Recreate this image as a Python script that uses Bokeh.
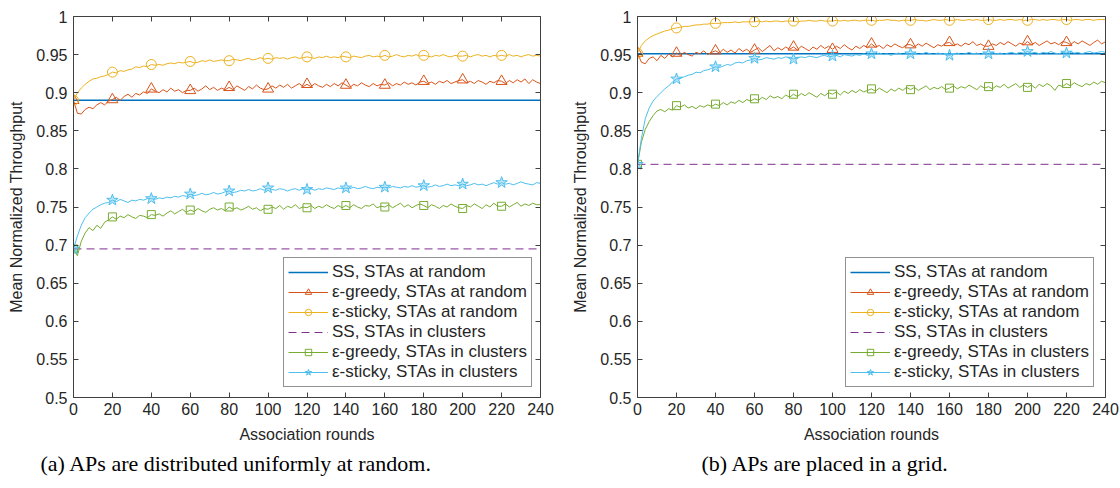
from bokeh.plotting import figure
from bokeh.models import (Range1d, LinearAxis, FixedTicker, Legend, LegendItem, Title)
from bokeh.layouts import row
from bokeh.embed import file_html
from bokeh.resources import INLINE

# ---------------- data ----------------
rounds = list(range(0, 241, 2))
marker_rounds = list(range(0, 221, 20))
x_ticks = list(range(0, 241, 20))
y_ticks = [0.5, 0.55, 0.6, 0.65, 0.7, 0.75, 0.8, 0.85, 0.9, 0.95, 1.0]
y_tick_labels = ["0.5", "0.55", "0.6", "0.65", "0.7", "0.75", "0.8", "0.85", "0.9", "0.95", "1"]

series_labels = ["SS, STAs at random", "ε-greedy, STAs at random", "ε-sticky, STAs at random",
                 "SS, STAs in clusters", "ε-greedy, STAs in clusters", "ε-sticky, STAs in clusters"]
captions = ["(a) APs are distributed uniformly at random.", "(b) APs are placed in a grid."]

ss_rounds = [0, 240]

# (a) APs distributed uniformly at random
a_ss_random = [0.890, 0.890]
a_ss_clusters = [0.695, 0.695]
a_greedy_random = [
    0.890, 0.873, 0.872, 0.878, 0.881, 0.879, 0.884, 0.887, 0.884, 0.889,
    0.891, 0.894, 0.890, 0.895, 0.898, 0.894, 0.899, 0.897, 0.901, 0.899,
    0.905, 0.902, 0.900, 0.904, 0.901, 0.906, 0.902, 0.904, 0.900, 0.903,
    0.903, 0.906, 0.902, 0.905, 0.909, 0.904, 0.907, 0.903, 0.906, 0.904,
    0.907, 0.904, 0.909, 0.906, 0.903, 0.908, 0.905, 0.910, 0.906, 0.904,
    0.905, 0.909, 0.906, 0.910, 0.907, 0.911, 0.906, 0.909, 0.912, 0.908,
    0.911, 0.908, 0.912, 0.909, 0.907, 0.911, 0.908, 0.912, 0.909, 0.913,
    0.910, 0.907, 0.911, 0.909, 0.913, 0.910, 0.908, 0.912, 0.909, 0.911,
    0.910, 0.913, 0.909, 0.912, 0.910, 0.914, 0.911, 0.913, 0.910, 0.914,
    0.915, 0.912, 0.914, 0.911, 0.915, 0.913, 0.916, 0.912, 0.914, 0.916,
    0.917, 0.913, 0.915, 0.912, 0.916, 0.914, 0.911, 0.915, 0.913, 0.916,
    0.915, 0.912, 0.916, 0.913, 0.917, 0.914, 0.918, 0.912, 0.917, 0.914,
    0.912]
a_sticky_random = [
    0.890, 0.900, 0.906, 0.911, 0.915, 0.918, 0.919, 0.921, 0.922, 0.924,
    0.927, 0.926, 0.929, 0.928, 0.930, 0.931, 0.934, 0.933, 0.935, 0.934,
    0.937, 0.936, 0.937, 0.936, 0.938, 0.939, 0.938, 0.940, 0.939, 0.940,
    0.941, 0.939, 0.940, 0.942, 0.941, 0.943, 0.941, 0.942, 0.943, 0.942,
    0.942, 0.944, 0.943, 0.942, 0.944, 0.945, 0.943, 0.944, 0.946, 0.944,
    0.945, 0.944, 0.946, 0.945, 0.946, 0.944, 0.946, 0.947, 0.945, 0.946,
    0.947, 0.946, 0.945, 0.947, 0.946, 0.948, 0.946, 0.947, 0.946, 0.948,
    0.947, 0.946, 0.948, 0.947, 0.946, 0.948, 0.949, 0.947, 0.948, 0.947,
    0.949, 0.947, 0.948, 0.950, 0.948, 0.947, 0.949, 0.948, 0.950, 0.948,
    0.949, 0.948, 0.947, 0.949, 0.948, 0.950, 0.948, 0.947, 0.949, 0.948,
    0.948, 0.949, 0.947, 0.949, 0.950, 0.948, 0.949, 0.947, 0.949, 0.948,
    0.949, 0.948, 0.950, 0.948, 0.949, 0.947, 0.949, 0.950, 0.948, 0.949,
    0.948]
a_greedy_clusters = [
    0.695, 0.686, 0.705, 0.716, 0.723, 0.719, 0.726, 0.722, 0.730, 0.733,
    0.737, 0.734, 0.738, 0.736, 0.740, 0.737, 0.735, 0.739, 0.738, 0.736,
    0.740, 0.739, 0.741, 0.738, 0.742, 0.745, 0.741, 0.744, 0.747, 0.743,
    0.746, 0.744, 0.748, 0.745, 0.743, 0.747, 0.749, 0.746, 0.748, 0.745,
    0.750, 0.747, 0.749, 0.746, 0.748, 0.751, 0.747, 0.749, 0.745, 0.748,
    0.747, 0.750, 0.748, 0.752, 0.747, 0.751, 0.749, 0.753, 0.748, 0.750,
    0.749, 0.752, 0.748, 0.751, 0.749, 0.753, 0.750, 0.748, 0.752, 0.749,
    0.752, 0.749, 0.753, 0.750, 0.748, 0.752, 0.751, 0.754, 0.749, 0.751,
    0.750, 0.753, 0.749, 0.752, 0.755, 0.750, 0.753, 0.749, 0.752, 0.754,
    0.752, 0.749, 0.753, 0.751, 0.748, 0.752, 0.750, 0.754, 0.751, 0.749,
    0.748, 0.752, 0.750, 0.754, 0.751, 0.748, 0.753, 0.750, 0.755, 0.751,
    0.751, 0.754, 0.750, 0.753, 0.756, 0.751, 0.754, 0.752, 0.755, 0.753,
    0.753]
a_sticky_clusters = [
    0.695, 0.712, 0.726, 0.736, 0.742, 0.747, 0.750, 0.753, 0.755, 0.756,
    0.759, 0.757, 0.760, 0.758, 0.756, 0.759, 0.758, 0.760, 0.759, 0.761,
    0.761, 0.760, 0.762, 0.761, 0.763, 0.762, 0.764, 0.763, 0.765, 0.764,
    0.767, 0.765, 0.766, 0.768, 0.766, 0.767, 0.769, 0.767, 0.768, 0.770,
    0.771, 0.769, 0.770, 0.772, 0.771, 0.773, 0.771, 0.772, 0.774, 0.772,
    0.775, 0.773, 0.772, 0.774, 0.773, 0.771, 0.773, 0.774, 0.772, 0.774,
    0.773, 0.774, 0.772, 0.774, 0.773, 0.775, 0.774, 0.773, 0.775, 0.774,
    0.775, 0.774, 0.776, 0.774, 0.775, 0.777, 0.775, 0.774, 0.776, 0.775,
    0.776, 0.775, 0.777, 0.776, 0.775, 0.777, 0.776, 0.778, 0.776, 0.777,
    0.778, 0.776, 0.777, 0.779, 0.777, 0.778, 0.780, 0.778, 0.779, 0.778,
    0.780, 0.778, 0.779, 0.781, 0.779, 0.780, 0.778, 0.780, 0.782, 0.780,
    0.782, 0.780, 0.781, 0.779, 0.781, 0.783, 0.781, 0.780, 0.779, 0.782,
    0.781]

# (b) APs placed in a grid
b_ss_random = [0.951, 0.951]
b_ss_clusters = [0.806, 0.806]
b_greedy_random = [
    0.952, 0.940, 0.938, 0.945, 0.947, 0.942, 0.949, 0.945, 0.951, 0.947,
    0.952, 0.949, 0.953, 0.950, 0.948, 0.953, 0.951, 0.955, 0.950, 0.953,
    0.955, 0.952, 0.957, 0.953, 0.956, 0.952, 0.958, 0.954, 0.957, 0.953,
    0.956, 0.959, 0.954, 0.958, 0.962, 0.955, 0.959, 0.956, 0.960, 0.957,
    0.960, 0.956, 0.961, 0.958, 0.955, 0.960, 0.957, 0.962, 0.958, 0.961,
    0.957, 0.961, 0.958, 0.963, 0.959, 0.956, 0.961, 0.958, 0.962, 0.959,
    0.964, 0.960, 0.962, 0.958, 0.963, 0.960, 0.964, 0.961, 0.959, 0.963,
    0.963, 0.960, 0.964, 0.961, 0.965, 0.962, 0.959, 0.963, 0.961, 0.965,
    0.966, 0.962, 0.964, 0.961, 0.965, 0.963, 0.967, 0.962, 0.964, 0.961,
    0.961, 0.964, 0.962, 0.966, 0.963, 0.967, 0.964, 0.961, 0.965, 0.963,
    0.967, 0.963, 0.966, 0.962, 0.965, 0.968, 0.964, 0.966, 0.963, 0.967,
    0.966, 0.963, 0.967, 0.964, 0.968, 0.965, 0.962, 0.966, 0.969, 0.964,
    0.967]
b_sticky_random = [
    0.952, 0.962, 0.968, 0.972, 0.975, 0.977, 0.979, 0.981, 0.982, 0.984,
    0.985, 0.986, 0.987, 0.987, 0.988, 0.989, 0.989, 0.990, 0.990, 0.991,
    0.991, 0.991, 0.992, 0.992, 0.992, 0.993, 0.992, 0.993, 0.993, 0.993,
    0.993, 0.994, 0.993, 0.994, 0.993, 0.994, 0.994, 0.993, 0.994, 0.994,
    0.994, 0.993, 0.994, 0.994, 0.995, 0.994, 0.994, 0.995, 0.994, 0.994,
    0.994, 0.995, 0.994, 0.995, 0.994, 0.995, 0.995, 0.994, 0.995, 0.995,
    0.995, 0.994, 0.995, 0.995, 0.996, 0.995, 0.995, 0.994, 0.995, 0.995,
    0.995, 0.996, 0.995, 0.995, 0.994, 0.995, 0.996, 0.995, 0.995, 0.996,
    0.995, 0.995, 0.996, 0.995, 0.995, 0.996, 0.995, 0.996, 0.995, 0.995,
    0.996, 0.995, 0.995, 0.996, 0.995, 0.996, 0.996, 0.995, 0.996, 0.995,
    0.995, 0.996, 0.996, 0.995, 0.996, 0.995, 0.996, 0.996, 0.995, 0.996,
    0.996, 0.995, 0.996, 0.996, 0.995, 0.996, 0.996, 0.995, 0.996, 0.996,
    0.996]
b_greedy_clusters = [
    0.806, 0.835, 0.852, 0.862, 0.870, 0.876, 0.878, 0.875, 0.879, 0.877,
    0.883, 0.881, 0.884, 0.880, 0.882, 0.879, 0.883, 0.881, 0.884, 0.882,
    0.885, 0.883, 0.887, 0.884, 0.888, 0.886, 0.890, 0.887, 0.891, 0.889,
    0.892, 0.890, 0.894, 0.891, 0.896, 0.893, 0.895, 0.892, 0.897, 0.894,
    0.898, 0.895, 0.899, 0.896, 0.900, 0.897, 0.894, 0.899, 0.896, 0.900,
    0.898, 0.901, 0.897, 0.902, 0.899, 0.903, 0.900, 0.904, 0.901, 0.903,
    0.905, 0.902, 0.906, 0.903, 0.900, 0.905, 0.902, 0.906, 0.903, 0.907,
    0.904, 0.907, 0.903, 0.906, 0.909, 0.904, 0.907, 0.905, 0.908, 0.904,
    0.906, 0.909, 0.905, 0.908, 0.906, 0.910, 0.907, 0.904, 0.909, 0.906,
    0.908, 0.905, 0.909, 0.907, 0.911, 0.906, 0.909, 0.912, 0.907, 0.910,
    0.907, 0.910, 0.906, 0.911, 0.908, 0.912, 0.909, 0.903, 0.910, 0.908,
    0.912, 0.909, 0.913, 0.910, 0.908, 0.912, 0.910, 0.914, 0.911, 0.915,
    0.913]
b_sticky_clusters = [
    0.806, 0.840, 0.866, 0.880, 0.889, 0.895, 0.900, 0.905, 0.909, 0.914,
    0.918, 0.919, 0.921, 0.923, 0.924, 0.927, 0.926, 0.929, 0.930, 0.932,
    0.934, 0.933, 0.935, 0.937, 0.936, 0.939, 0.940, 0.939, 0.942, 0.943,
    0.945, 0.943, 0.944, 0.946, 0.945, 0.944, 0.946, 0.945, 0.947, 0.946,
    0.944, 0.946, 0.947, 0.946, 0.948, 0.947, 0.946, 0.948, 0.949, 0.947,
    0.948, 0.949, 0.947, 0.950, 0.949, 0.948, 0.950, 0.949, 0.951, 0.949,
    0.951, 0.950, 0.952, 0.950, 0.951, 0.949, 0.951, 0.952, 0.950, 0.951,
    0.951, 0.952, 0.950, 0.951, 0.953, 0.951, 0.950, 0.952, 0.951, 0.950,
    0.949, 0.951, 0.952, 0.950, 0.951, 0.953, 0.951, 0.952, 0.950, 0.952,
    0.951, 0.953, 0.951, 0.952, 0.950, 0.952, 0.953, 0.951, 0.953, 0.952,
    0.954, 0.952, 0.953, 0.951, 0.953, 0.952, 0.954, 0.952, 0.951, 0.953,
    0.952, 0.954, 0.952, 0.953, 0.951, 0.953, 0.954, 0.952, 0.953, 0.954,
    0.953]

# ---------------- styling ----------------
C_BLUE = "#0072BD"
C_RED = "#D95319"
C_YEL = "#EDB120"
C_PUR = "#7E2F8E"
C_GRN = "#77AC30"
C_CYN = "#4DBEEE"
TXT = "#262626"
AX = "#404040"
SANS = "Liberation Sans"


def markers_of(ys):
    return [ys[rounds.index(r)] for r in marker_rounds]


def make_panel(ss_r, greedy_r, sticky_r, ss_c, greedy_c, sticky_c, caption,
               width, border_left, border_right, legend_x, cap_offset):
    p = figure(width=width, height=488, x_range=Range1d(0, 240), y_range=Range1d(0.5, 1.0),
               output_backend="svg", toolbar_location=None,
               min_border_left=border_left, min_border_right=border_right,
               min_border_top=16, min_border_bottom=91)
    p.xgrid.visible = False
    p.ygrid.visible = False
    p.outline_line_color = None
    p.background_fill_color = "white"
    p.border_fill_color = "white"

    for ax in (p.xaxis[0], p.yaxis[0]):
        ax.axis_line_color = AX
        ax.major_tick_line_color = AX
        ax.major_tick_in = 5
        ax.major_tick_out = 0
        ax.minor_tick_line_color = None
        ax.major_label_text_font = SANS
        ax.major_label_text_font_size = "16px"
        ax.major_label_text_color = TXT
        ax.axis_label_text_font = SANS
        ax.axis_label_text_font_size = "16px"
        ax.axis_label_text_font_style = "normal"
        ax.axis_label_text_color = TXT
    p.xaxis[0].ticker = FixedTicker(ticks=x_ticks)
    p.yaxis[0].ticker = FixedTicker(ticks=y_ticks)
    p.yaxis[0].major_label_overrides = {t: l for t, l in zip(y_ticks, y_tick_labels)}
    p.xaxis[0].axis_label = "Association rounds"
    p.yaxis[0].axis_label = "Mean Normalized Throughput"
    p.xaxis[0].major_label_standoff = 5
    p.xaxis[0].axis_label_standoff = 8
    p.yaxis[0].major_label_standoff = 6
    p.yaxis[0].axis_label_standoff = 8

    # box ticks on top and right (no labels)
    top = LinearAxis(ticker=FixedTicker(ticks=x_ticks))
    top.major_label_overrides = {t: "" for t in x_ticks}
    right = LinearAxis(ticker=FixedTicker(ticks=y_ticks))
    right.major_label_overrides = {t: "" for t in y_ticks}
    for ax in (top, right):
        ax.axis_line_color = AX
        ax.major_tick_line_color = AX
        ax.major_tick_in = 5
        ax.major_tick_out = 0
        ax.minor_tick_line_color = None
        ax.major_label_text_font_size = "1px"
        ax.major_label_standoff = 0
    p.add_layout(top, "above")
    p.add_layout(right, "right")

    r1 = p.line(ss_rounds, ss_r, line_color=C_BLUE, line_width=1.5)
    r2 = p.line(rounds, greedy_r, line_color=C_RED, line_width=1)
    m2 = p.scatter(marker_rounds, markers_of(greedy_r), marker="triangle", size=11,
                   line_color=C_RED, fill_color=None, line_width=1)
    r3 = p.line(rounds, sticky_r, line_color=C_YEL, line_width=1)
    m3 = p.scatter(marker_rounds, markers_of(sticky_r), marker="circle", size=10,
                   line_color=C_YEL, fill_color=None, line_width=1)
    r4 = p.line(ss_rounds, ss_c, line_color=C_PUR, line_width=1, line_dash="8 5")
    r5 = p.line(rounds, greedy_c, line_color=C_GRN, line_width=1)
    m5 = p.scatter(marker_rounds, markers_of(greedy_c), marker="square", size=8,
                   line_color=C_GRN, fill_color=None, line_width=1)
    r6 = p.line(rounds, sticky_c, line_color=C_CYN, line_width=1)
    m6 = p.scatter(marker_rounds, markers_of(sticky_c), marker="star", size=12,
                   line_color=C_CYN, fill_color=C_CYN, fill_alpha=0.35, line_width=1)

    items = [
        LegendItem(label=series_labels[0], renderers=[r1]),
        LegendItem(label=series_labels[1], renderers=[r2, m2]),
        LegendItem(label=series_labels[2], renderers=[r3, m3]),
        LegendItem(label=series_labels[3], renderers=[r4]),
        LegendItem(label=series_labels[4], renderers=[r5, m5]),
        LegendItem(label=series_labels[5], renderers=[r6, m6]),
    ]
    leg = Legend(items=items, location=(legend_x, 10), margin=0, padding=4,
                 spacing=-2, glyph_width=40, glyph_height=16, label_height=16,
                 label_standoff=4, label_text_line_height=1.0,
                 label_text_font=SANS, label_text_font_size="17px", label_text_color=TXT,
                 border_line_color=TXT, border_line_width=1, background_fill_alpha=1.0)
    p.add_layout(leg)

    cap = Title(text=caption, align="left", offset=cap_offset, text_font="Liberation Serif",
                text_font_size="22px", text_font_style="normal", text_color="#000000",
                standoff=6)
    p.add_layout(cap, "below")
    return p


pa = make_panel(a_ss_random, a_greedy_random, a_sticky_random, a_ss_clusters,
                a_greedy_clusters, a_sticky_clusters, captions[0],
                width=560, border_left=73, border_right=20, legend_x=210, cap_offset=-33)
pb = make_panel(b_ss_random, b_greedy_random, b_sticky_random, b_ss_clusters,
                b_greedy_clusters, b_sticky_clusters, captions[1],
                width=560, border_left=77, border_right=15, legend_x=208, cap_offset=64)

layout = row(pa, pb, spacing=0)
open("out.html", "w").write(file_html(layout, INLINE))
